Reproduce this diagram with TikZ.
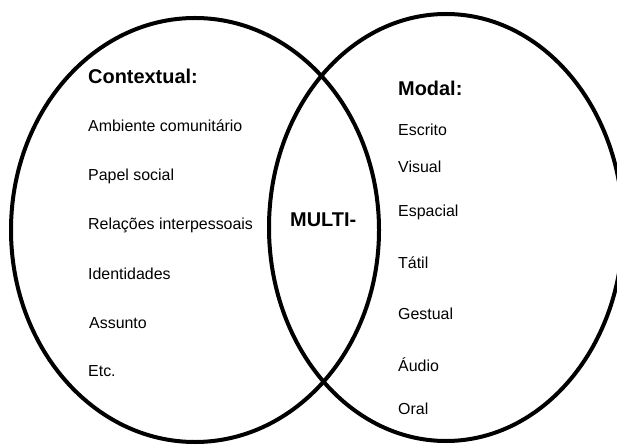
\documentclass[tikz,border=0pt]{standalone}
\usepackage{fontspec}
\setmainfont{Liberation Sans}
\usetikzlibrary{shapes.geometric}
\begin{document}
\begin{tikzpicture}[x=1bp,y=-1bp,
  ring/.style={draw=black, line width=4bp, ellipse, inner sep=0pt},
  head/.style={anchor=west, inner sep=0pt, font=\fontsize{20}{24}\selectfont\bfseries},
  item/.style={anchor=west, inner sep=0pt, font=\fontsize{16}{19}\selectfont}]
\useasboundingbox (0,0) rectangle (617,448);
\clip (0,0) rectangle (617,448);
\fill[white] (0,0) rectangle (617,448);
\node[ring, minimum width=368bp, minimum height=424bp] (L) at (195,230) {};
\node[ring, minimum width=354bp, minimum height=427bp] (R) at (446,227.5) {};
\node[head] (ctx) at (88,76) {Contextual:};
\node[item] (c1) at (88,126) {Ambiente comunitário};
\node[item] (c2) at (88,176) {Papel social};
\node[item] (c3) at (88,225) {Relações interpessoais};
\node[item] (c4) at (88,274) {Identidades};
\node[item] (c5) at (89,323) {Assunto};
\node[item] (c6) at (88,371) {Etc.};
\node[head] (mid) at (290,220) {MULTI-};
\node[head] (mod) at (398,88) {Modal:};
\node[item] (m1) at (398,130) {Escrito};
\node[item] (m2) at (398,167) {Visual};
\node[item] (m3) at (398,212) {Espacial};
\node[item] (m4) at (398,263) {Tátil};
\node[item] (m5) at (398,314) {Gestual};
\node[item] (m6) at (398,365) {Áudio};
\node[item] (m7) at (398,409) {Oral};
\end{tikzpicture}
\end{document}
